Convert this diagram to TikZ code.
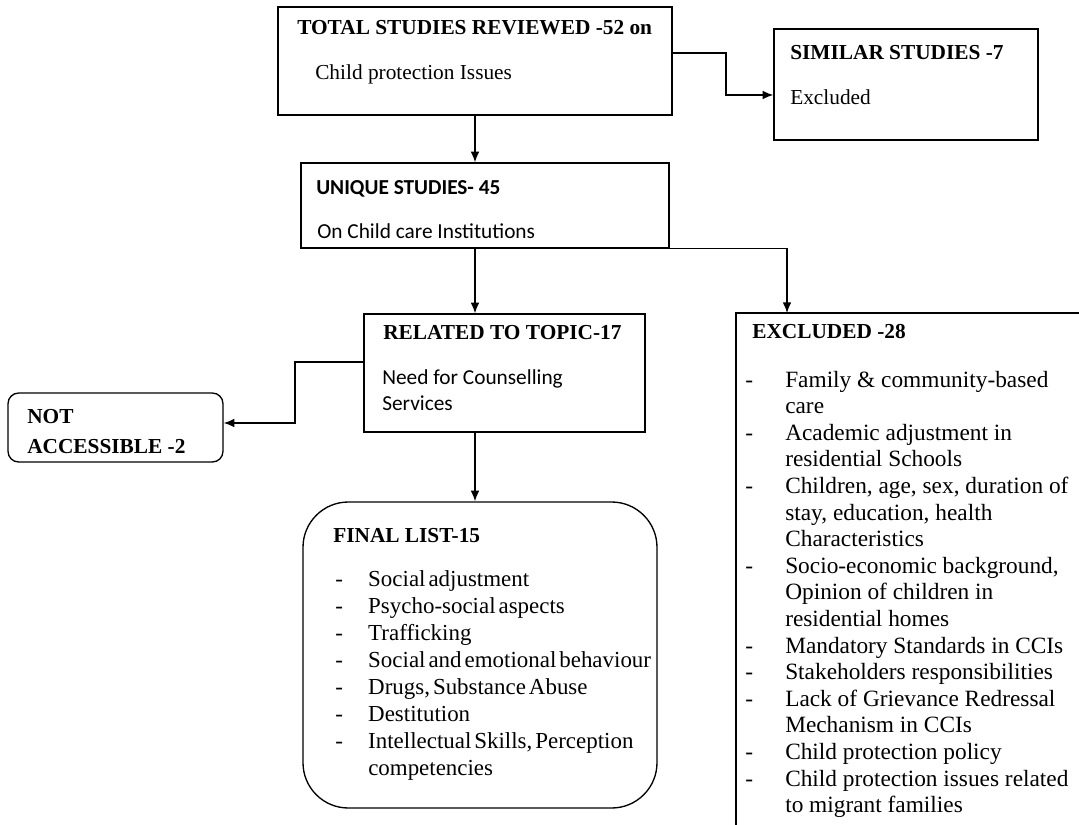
\documentclass[tikz,border=0pt]{standalone}
\usepackage{fontspec}
\setmainfont{Liberation Serif}
\newfontfamily\calibrifont{Carlito}
\usetikzlibrary{arrows,arrows.meta,positioning,fit,calc}

\tikzset{
  box/.style={draw, line width=1pt, inner sep=0pt},
  roundbox/.style={box, rounded corners=34pt},
  smallround/.style={box, rounded corners=8pt},
  title/.style={anchor=base west, inner sep=0pt, font=\bfseries\fontsize{16}{19}\selectfont},
  body/.style={anchor=base west, inner sep=0pt, font=\fontsize{16}{19}\selectfont},
  sans/.style={anchor=base west, inner sep=0pt, font=\calibrifont\fontsize{16}{19.5}\selectfont},
  listtext/.style={anchor=base west, inner sep=0pt},
  flow/.style={-{Latex[length=8pt,width=6.5pt]}, line width=1pt}
}

\begin{document}
\begin{tikzpicture}[x=0.75pt, y=-0.75pt]
\useasboundingbox (0,0) rectangle (1079,825);

% boxes
\node [box, fit={(278,7) (672,115)}] (total) {};
\node [box, fit={(774,29) (1038,140)}] (similar) {};
\node [box, fit={(301,163) (669,248)}] (uniq) {};
\node [box, fit={(364,314) (645,432)}] (rel) {};
\node [smallround, fit={(8,393) (223,462)}] (notacc) {};
\node [roundbox, fit={(303,502) (657,808)}] (final) {};
\node [box, fit={(736,313) (1095,845)}] (excl) {};

% texts
\node [title] (totaltitle) at (297,34) {TOTAL STUDIES REVIEWED -52 on};
\node [body] (totaltext) at (315,79) {Child protection Issues};
\node [title] (similartitle) at (790,59) {SIMILAR STUDIES -7};
\node [body] (similartext) at (790,104) {Excluded};
\node [sans, font=\calibrifont\bfseries\fontsize{16}{19.5}\selectfont] (uniqtitle) at (316,194) {UNIQUE STUDIES- 45};
\node [sans] (uniqtext) at (317,238) {On Child care Institutions};
\node [title] (reltitle) at (383,339) {RELATED TO TOPIC-17};
\node [sans] (reltext) at (382,384) {\begin{tabular}[t]{@{}l@{}}Need for Counselling\\ Services\end{tabular}};
\node [title, font=\bfseries\fontsize{16}{22.5}\selectfont] (notacctitle) at (27,423) {\begin{tabular}[t]{@{}l@{}}NOT\\ ACCESSIBLE -2\end{tabular}};
\node [title] (finaltitle) at (333,542) {FINAL LIST-15};
\node [listtext, font=\fontsize{17.2}{20.25}\selectfont] (finallist) at (335,586) {\spaceskip=0.13em plus 0.05em\relax
\begin{tabular}[t]{@{}p{24.75pt}@{}l@{}}
- & Social adjustment\\
- & Psycho-social aspects\\
- & Trafficking\\
- & Social and emotional behaviour\\
- & Drugs, Substance Abuse\\
- & Destitution\\
- & Intellectual Skills, Perception\\
  & competencies
\end{tabular}};
\node [title] (excltitle) at (752,338) {EXCLUDED -28};
\node [listtext, font=\fontsize{17.5}{19.95}\selectfont] (excllist) at (745,387) {\begin{tabular}[t]{@{}p{30pt}@{}l@{}}
- & Family \& community-based\\
  & care\\
- & Academic adjustment in\\
  & residential Schools\\
- & Children, age, sex, duration of\\
  & stay, education, health\\
  & Characteristics\\
- & Socio-economic background,\\
  & Opinion of children in\\
  & residential homes\\
- & Mandatory Standards in CCIs\\
- & Stakeholders responsibilities\\
- & Lack of Grievance Redressal\\
  & Mechanism in CCIs\\
- & Child protection policy\\
- & Child protection issues related\\
  & to migrant families
\end{tabular}};

% connectors
\draw [flow] (total.east |- 0,53) -- (726,53) -- (726,95) -- (similar.west |- 0,95);
\draw [flow] (total.south) -- (total.south |- uniq.north);
\draw [flow] (uniq.south east) -| (787,313);
\draw [flow] (total.south |- uniq.south) -- (total.south |- rel.north);
\draw [flow] (rel.west |- 0,362) -| (295,423) -- (notacc.east |- 0,423);
\draw [flow] (total.south |- rel.south) -- (total.south |- final.north);
\end{tikzpicture}
\end{document}
